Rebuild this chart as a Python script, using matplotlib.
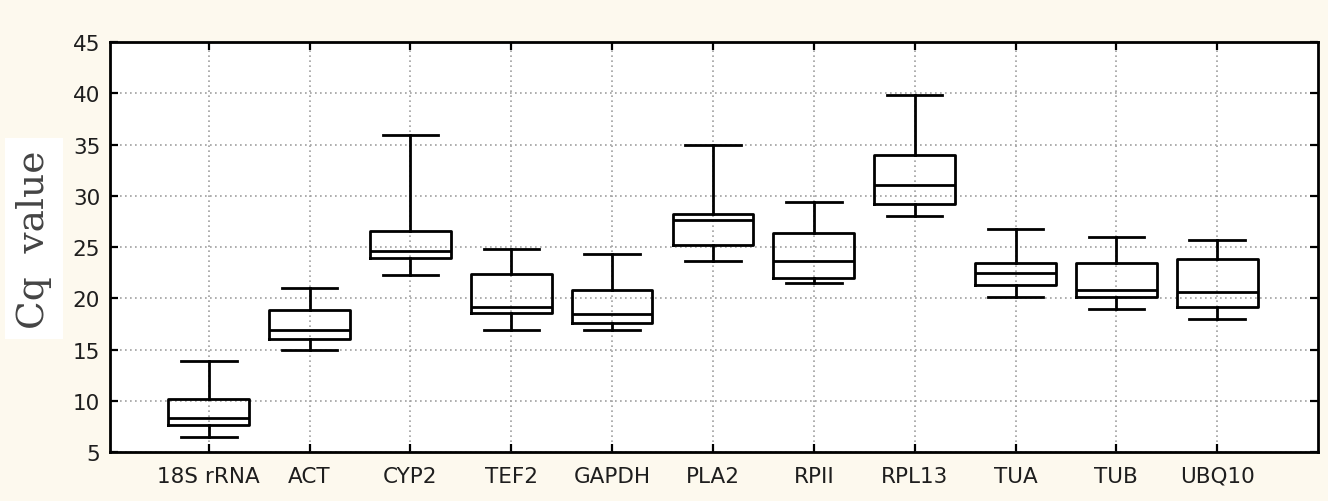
import matplotlib
matplotlib.use("Agg")
import matplotlib.pyplot as plt

# genes and box statistics (Cq values)
genes = ["18S rRNA", "ACT", "CYP2", "TEF2", "GAPDH", "PLA2",
         "RPII", "RPL13", "TUA", "TUB", "UBQ10"]
whisk_lo = [6.5, 15.0, 22.3, 16.9, 16.9, 23.6, 21.5, 28.0, 20.1, 19.0, 18.0]
q1       = [7.6, 16.0, 23.9, 18.6, 17.6, 25.2, 22.0, 29.2, 21.3, 20.1, 19.2]
medians  = [8.3, 16.9, 24.6, 19.2, 18.5, 27.6, 23.6, 31.1, 22.5, 20.8, 20.6]
q3       = [10.2, 18.9, 26.6, 22.4, 20.8, 28.2, 26.4, 34.0, 23.4, 23.4, 23.8]
whisk_hi = [13.9, 21.0, 35.9, 24.8, 24.3, 35.0, 29.4, 39.8, 26.8, 26.0, 25.7]

yticks = [5, 10, 15, 20, 25, 30, 35, 40, 45]

stats = []
for g, lo, a, m, b, hi in zip(genes, whisk_lo, q1, medians, q3, whisk_hi):
    stats.append(dict(label=g, whislo=lo, q1=a, med=m, q3=b, whishi=hi, fliers=[]))

fig = plt.figure(figsize=(13.28, 5.02), dpi=100, facecolor="#fdf9ee")
ax = fig.add_axes([0.0828, 0.0976, 0.9097, 0.8164])
ax.set_facecolor("white")

lw = 2.0
ax.bxp(stats, positions=range(1, len(genes) + 1), widths=0.8,
       capwidths=0.55, showfliers=False,
       boxprops=dict(color="black", linewidth=lw),
       medianprops=dict(color="black", linewidth=lw),
       whiskerprops=dict(color="black", linewidth=lw),
       capprops=dict(color="black", linewidth=lw))

ax.set_xlim(0.02, 12.0)
ax.set_ylim(5, 45)
ax.set_yticks(yticks)
ax.set_xticks(range(1, len(genes) + 1))
ax.set_xticklabels(genes)

ax.grid(True, linestyle=(0, (1, 2)), color="#a0a0a0", linewidth=1.2)
ax.set_axisbelow(True)

for s in ax.spines.values():
    s.set_linewidth(2.0)
    s.set_color("black")

ax.tick_params(direction="in", length=6, width=1.6, top=True, right=True,
               labelsize=15.5, colors="black", pad=10)
ax.tick_params(axis="y", pad=7)
for lab in ax.get_xticklabels() + ax.get_yticklabels():
    lab.set_color("#1e1e1e")

ax.set_ylabel("Cq  value", family="DejaVu Serif", fontsize=27, color="#444444",
              labelpad=15,
              bbox=dict(facecolor="white", edgecolor="none", pad=8))
ax.yaxis.label.set_y(0.52)

fig.savefig("out.png", dpi=100, facecolor=fig.get_facecolor())
